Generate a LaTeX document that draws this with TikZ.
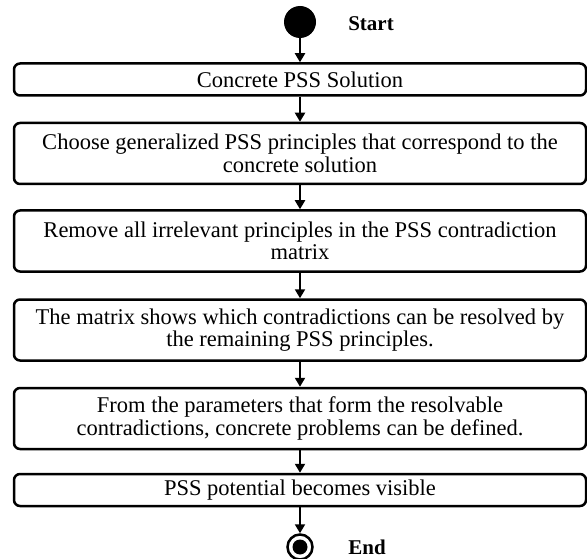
\documentclass[tikz,border=0pt]{standalone}
\usepackage{fontspec}
\setmainfont{Liberation Serif}
\usetikzlibrary{arrows.meta}

\begin{document}
\begin{tikzpicture}
  [x=1pt, y=-1pt,
  >={Triangle[length=9pt,width=10pt]},
  etape/.style={
    draw=black,
    rectangle,
    rounded corners=6pt,
    line width=2.5pt,
    minimum width=572pt,
    minimum height=32pt,
    inner sep=0pt,
    font=\fontsize{22.5}{22.5}\selectfont},
  etapelongue/.style={
    etape,
    minimum height=61pt},
  debut/.style={
    fill=black,
    circle,
    minimum size=32pt,
    inner sep=0pt},
  fin/.style={
    draw=black,
    circle,
    line width=2.5pt,
    minimum size=25pt,
    inner sep=0pt},
  point/.style={
    fill=black,
    circle,
    minimum size=15pt,
    inner sep=0pt},
  etiquette/.style={
    font=\fontsize{21}{21}\selectfont\bfseries},
  fleche/.style={
    line width=2pt,
    ->}]

  \useasboundingbox (0,0) rectangle (587,559);

  \node [debut] at (300,22) (debut) {};
  \node [etiquette] at (371,24) (start) {Start};

  \node [etape] at (300,79.5) (solution) {
  \begin{minipage}{560pt}\centering
    Concrete PSS Solution
  \end{minipage}
  };

  \node [etapelongue] at (300,153.5) (principes) {
  \begin{minipage}{560pt}\centering
    Choose generalized PSS principles that correspond to the\\
    concrete solution
  \end{minipage}
  };

  \node [etapelongue] at (300,241) (suppression) {
  \begin{minipage}{560pt}\centering
    Remove all irrelevant principles in the PSS contradiction\\
    matrix
  \end{minipage}
  };

  \node [etapelongue] at (300,330) (matrice) {
  \begin{minipage}{560pt}\centering
    The matrix shows which contradictions can be resolved by\\
    the remaining PSS principles.
  \end{minipage}
  };

  \node [etapelongue] at (300,418.5) (problemes) {
  \begin{minipage}{560pt}\centering
    From the parameters that form the resolvable\\
    contradictions, concrete problems can be defined.
  \end{minipage}
  };

  \node [etape] at (300,490) (potentiel) {
  \begin{minipage}{560pt}\centering
    PSS potential becomes visible
  \end{minipage}
  };

  \node [fin] at (300,547) (fin) {};
  \node [point] at (fin) (finpoint) {};
  \node [etiquette] at (367,547) (end) {End};

  \draw [fleche] (debut) -- (solution);
  \draw [fleche] (solution) -- (principes);
  \draw [fleche] (principes) -- (suppression);
  \draw [fleche] (suppression) -- (matrice);
  \draw [fleche] (matrice) -- (problemes);
  \draw [fleche] (problemes) -- (potentiel);
  \draw [fleche] (potentiel) -- (fin);
\end{tikzpicture}
\end{document}
